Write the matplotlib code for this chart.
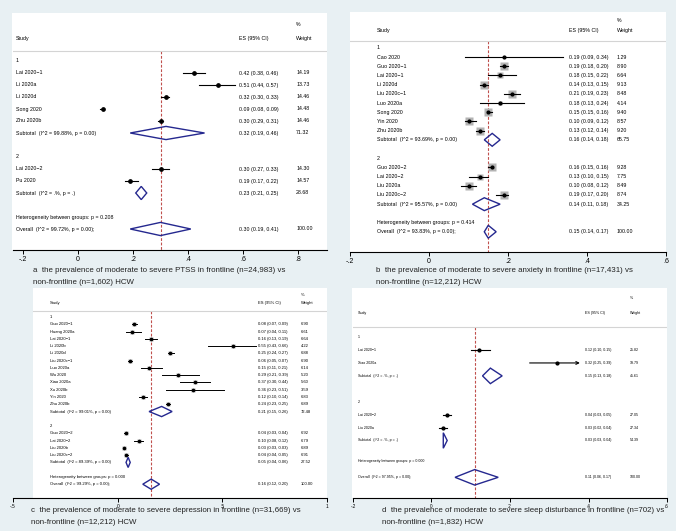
import numpy as np
import matplotlib.pyplot as plt
from matplotlib.patches import Rectangle, Polygon

plt.rcParams['font.family'] = ['Liberation Sans', 'DejaVu Sans']

W, H = 676, 531
BG = '#e8f0f3'
NAVY = '#25288f'
RED = '#c0504d'

# ---- panel a: PTSS
a_names = ['Lai 2020−1', 'Li 2020a', 'Li 2020d', 'Song 2020', 'Zhu 2020b', 'Lai 2020−2', 'Pu 2020']
a_group = [1, 1, 1, 1, 1, 2, 2]
a_es = [0.42, 0.51, 0.32, 0.09, 0.30, 0.30, 0.19]
a_lo = [0.38, 0.44, 0.30, 0.08, 0.29, 0.27, 0.17]
a_hi = [0.46, 0.57, 0.33, 0.09, 0.31, 0.33, 0.22]
a_wt = [14.19, 13.73, 14.46, 14.48, 14.46, 14.30, 14.57]
a_sub_es = [0.32, 0.23]
a_sub_lo = [0.19, 0.21]
a_sub_hi = [0.46, 0.25]
a_sub_wt = [71.32, 28.68]
a_sub_i2 = ['(I^2 = 99.88%, p = 0.00)', '(I^2 = .%, p = .)']
a_overall = [0.30, 0.19, 0.41]
a_overall_i2 = '(I^2 = 99.72%, p = 0.00);'
a_het_p = '0.208'
a_caption = ['a  the prevalence of moderate to severe PTSS in frontline (n=24,983) vs',
             'non-frontline (n=1,602) HCW']

# ---- panel b: anxiety
b_names = ['Cao 2020', 'Guo 2020−1', 'Lai 2020−1', 'Li 2020d', 'Liu 2020c−1', 'Luo 2020a',
           'Song 2020', 'Yin 2020', 'Zhu 2020b', 'Guo 2020−2', 'Lai 2020−2', 'Liu 2020a', 'Liu 2020c−2']
b_group = [1, 1, 1, 1, 1, 1, 1, 1, 1, 2, 2, 2, 2]
b_es = [0.19, 0.19, 0.18, 0.14, 0.21, 0.18, 0.15, 0.10, 0.13, 0.16, 0.13, 0.10, 0.19]
b_lo = [0.09, 0.18, 0.15, 0.13, 0.19, 0.13, 0.15, 0.09, 0.12, 0.15, 0.10, 0.08, 0.17]
b_hi = [0.34, 0.20, 0.22, 0.15, 0.23, 0.24, 0.16, 0.12, 0.14, 0.16, 0.15, 0.12, 0.20]
b_wt = [1.29, 8.90, 6.64, 9.13, 8.48, 4.14, 9.40, 8.57, 9.20, 9.28, 7.75, 8.49, 8.74]
b_sub_es = [0.16, 0.14]
b_sub_lo = [0.14, 0.11]
b_sub_hi = [0.18, 0.18]
b_sub_wt = [65.75, 34.25]
b_sub_i2 = ['(I^2 = 93.69%, p = 0.00)', '(I^2 = 95.57%, p = 0.00)']
b_overall = [0.15, 0.14, 0.17]
b_overall_i2 = '(I^2 = 93.83%, p = 0.00);'
b_het_p = '0.414'
b_caption = ['b  the prevalence of moderate to severe anxiety in frontline (n=17,431) vs',
             'non-frontline (n=12,212) HCW']

# ---- panel c: depression
c_names = ['Guo 2020−1', 'Huang 2020a', 'Lai 2020−1', 'Li 2020b', 'Li 2020d', 'Liu 2020c−1',
           'Luo 2020a', 'Wu 2020', 'Xiao 2020a', 'Xu 2020b', 'Yin 2020', 'Zhu 2020b',
           'Guo 2020−2', 'Lai 2020−2', 'Liu 2020b', 'Liu 2020c−2']
c_group = [1] * 12 + [2] * 4
c_es = [0.08, 0.07, 0.16, 0.55, 0.25, 0.06, 0.15, 0.29, 0.37, 0.36, 0.12, 0.24, 0.04, 0.10, 0.03, 0.04]
c_lo = [0.07, 0.04, 0.13, 0.43, 0.24, 0.05, 0.11, 0.21, 0.30, 0.23, 0.10, 0.23, 0.03, 0.08, 0.03, 0.04]
c_hi = [0.09, 0.11, 0.19, 0.66, 0.27, 0.07, 0.21, 0.39, 0.44, 0.51, 0.14, 0.25, 0.04, 0.12, 0.03, 0.05]
c_wt = [6.90, 6.61, 6.64, 4.22, 6.88, 6.90, 6.14, 5.20, 5.60, 3.59, 6.83, 6.89, 6.92, 6.79, 6.89, 6.91]
c_sub_es = [0.21, 0.05]
c_sub_lo = [0.15, 0.04]
c_sub_hi = [0.26, 0.06]
c_sub_wt = [72.48, 27.52]
c_sub_i2 = ['(I^2 = 99.01%, p = 0.00)', '(I^2 = 89.39%, p = 0.00)']
c_overall = [0.16, 0.12, 0.20]
c_overall_i2 = '(I^2 = 99.29%, p = 0.00);'
c_het_p = '0.000'
c_caption = ['c  the prevalence of moderate to severe depression in frontline (n=31,669) vs',
             'non-frontline (n=12,212) HCW']

# ---- panel d: sleep disturbance
d_names = ['Lai 2020−1', 'Xiao 2020a', 'Lai 2020−2', 'Liu 2020a']
d_group = [1, 1, 2, 2]
d_es = [0.12, 0.32, 0.04, 0.03]
d_lo = [0.10, 0.25, 0.03, 0.02]
d_hi = [0.15, 0.39, 0.05, 0.04]
d_wt = [25.82, 19.79, 27.05, 27.34]
d_sub_es = [0.15, 0.03]
d_sub_lo = [0.13, 0.03]
d_sub_hi = [0.18, 0.04]
d_sub_wt = [45.61, 54.39]
d_sub_i2 = ['(I^2 = .%, p = .)', '(I^2 = .%, p = .)']
d_overall = [0.11, 0.06, 0.17]
d_overall_i2 = '(I^2 = 97.95%, p = 0.00);'
d_het_p = '0.000'
d_caption = ['d  the prevalence of moderate to severe sleep disturbance in frontline (n=702) vs',
             'non-frontline (n=1,832) HCW']


def forest(box, ax_px, xlim, ylim, cols, ticks, ticklabels, fs, tfs, boxk, dot, dh,
           clip, names, group, es, lo, hi, wt, s_es, s_lo, s_hi, s_wt, s_i2,
           overall, ov_i2, het_p, het_shift=0.0, ov_shift=0.0, lw=0.8):
    bx0, by0, bx1, by1 = box
    fig.add_artist(Rectangle((bx0 / W, 1 - by1 / H), (bx1 - bx0) / W, (by1 - by0) / H,
                             transform=fig.transFigure, facecolor='white',
                             edgecolor='none', zorder=-1))
    x0, y0, x1, y1 = ax_px
    ax = fig.add_axes([x0 / W, 1 - y1 / H, (x1 - x0) / W, (y1 - y0) / H])
    ax.set_facecolor('none')
    ax.set_xlim(*xlim)
    ax.set_ylim(*ylim)
    for s in ['top', 'left', 'right']:
        ax.spines[s].set_visible(False)
    ax.spines['bottom'].set_linewidth(0.8)
    ax.set_yticks([])
    ax.set_xticks(ticks)
    ax.set_xticklabels(ticklabels, fontsize=tfs)
    ax.tick_params(axis='x', length=3, width=0.7, pad=1)

    cs, ce, cw = cols
    # header
    ax.text(cw, -3, '%', fontsize=fs, va='center')
    ax.text(cs, -1.9, 'Study', fontsize=fs, va='center')
    ax.text(ce, -1.9, 'ES (95% CI)', fontsize=fs, va='center')
    ax.text(cw, -1.9, 'Weight', fontsize=fs, va='center')
    xfrac = (bx0 - x0) / (x1 - x0)
    ax.axhline(-0.8, xmin=xfrac, color='#d4d4d4', lw=0.8)

    row = 0
    for g in (1, 2):
        ax.text(cs, row, str(g), fontsize=fs, va='center')
        row += 1
        for i in [k for k in range(len(names)) if group[k] == g]:
            if boxk > 0:
                ax.plot(es[i], row, marker='s', ms=boxk * np.sqrt(wt[i]), color='#b3b3b3',
                        mec='none', zorder=2)
            if hi[i] > clip:
                ax.annotate('', xy=(clip, row), xytext=(lo[i], row),
                            arrowprops=dict(arrowstyle='->', lw=lw, color='black',
                                            shrinkA=0, shrinkB=0, mutation_scale=5))
            else:
                ax.plot([lo[i], hi[i]], [row, row], color='black', lw=lw, zorder=3)
            ax.plot(es[i], row, 'o', ms=dot, color='black', zorder=4)
            ax.text(cs, row, names[i], fontsize=fs, va='center')
            ax.text(ce, row, f'{es[i]:.2f} ({lo[i]:.2f}, {hi[i]:.2f})', fontsize=fs, va='center')
            ax.text(cw, row, f'{wt[i]:.2f}', fontsize=fs, va='center')
            row += 1
        j = g - 1
        ax.add_patch(Polygon([(s_lo[j], row), (s_es[j], row - dh), (s_hi[j], row),
                              (s_es[j], row + dh)], closed=True, fill=False,
                             edgecolor=NAVY, lw=1.0, zorder=5))
        ax.text(cs, row, 'Subtotal  ' + s_i2[j], fontsize=fs, va='center')
        ax.text(ce, row, f'{s_es[j]:.2f} ({s_lo[j]:.2f}, {s_hi[j]:.2f})', fontsize=fs, va='center')
        ax.text(cw, row, f'{s_wt[j]:.2f}', fontsize=fs, va='center')
        row += 2

    hr = row + het_shift
    ax.text(cs, hr, 'Heterogeneity between groups: p = ' + het_p, fontsize=fs, va='center')
    orow = row + 1 + ov_shift
    ov, olo, ohi = overall
    ax.add_patch(Polygon([(olo, orow), (ov, orow - dh), (ohi, orow), (ov, orow + dh)],
                         closed=True, fill=False, edgecolor=NAVY, lw=1.0, zorder=5))
    ax.text(cs, orow, 'Overall  ' + ov_i2, fontsize=fs, va='center')
    ax.text(ce, orow, f'{ov:.2f} ({olo:.2f}, {ohi:.2f})', fontsize=fs, va='center')
    ax.text(cw, orow, '100.00', fontsize=fs, va='center')
    ax.plot([ov, ov], [-0.8, ylim[0]], color=RED, lw=0.8, ls=(0, (2.5, 1.5)), zorder=1)
    return ax


fig = plt.figure(figsize=(W / 100, H / 100), dpi=100)
fig.patch.set_facecolor(BG)

# panel a
forest((12, 13, 327, 250), (13, 13, 327, 250), (-0.236, 0.905), (15.75, -4.0),
       (-0.225, 0.585, 0.793), [-0.2, 0, 0.2, 0.4, 0.6, 0.8],
       ['-.2', '0', '.2', '.4', '.6', '.8'], 3.8, 5.0, 0, 2.4, 0.55, 9,
       a_names, a_group, a_es, a_lo, a_hi, a_wt, a_sub_es, a_sub_lo, a_sub_hi, a_sub_wt,
       a_sub_i2, a_overall, a_overall_i2, a_het_p)

# panel b
forest((350, 12, 666, 252), (350, 12, 666, 252), (-0.2, 0.6), (22.2, -3.9),
       (-0.132, 0.354, 0.476), [-0.2, 0, 0.2, 0.4, 0.6],
       ['-.2', '0', '.2', '.4', '.6'], 3.8, 5.0, 1.75, 2.0, 0.7, 0.344,
       b_names, b_group, b_es, b_lo, b_hi, b_wt, b_sub_es, b_sub_lo, b_sub_hi, b_sub_wt,
       b_sub_i2, b_overall, b_overall_i2, b_het_p)

# panel c
forest((33, 288, 327, 498), (13, 288, 327, 498), (-0.5, 1.0), (24.9, -4.0),
       (-0.323, 0.67, 0.876), [-0.5, 0, 0.5, 1.0],
       ['-.5', '0', '.5', '1'], 3.0, 3.5, 1.2, 1.6, 0.7, 9,
       c_names, c_group, c_es, c_lo, c_hi, c_wt, c_sub_es, c_sub_lo, c_sub_hi, c_sub_wt,
       c_sub_i2, c_overall, c_overall_i2, c_het_p, lw=0.7)

# panel d
forest((352, 288, 667, 498), (353, 288, 667, 498), (-0.2, 0.6), (12.45, -3.8),
       (-0.187, 0.391, 0.506), [-0.2, 0, 0.2, 0.4, 0.6],
       ['-.2', '0', '.2', '.4', '.6'], 2.6, 3.3, 0, 2.0, 0.6, 0.378,
       d_names, d_group, d_es, d_lo, d_hi, d_wt, d_sub_es, d_sub_lo, d_sub_hi, d_sub_wt,
       d_sub_i2, d_overall, d_overall_i2, d_het_p, het_shift=-0.4, ov_shift=-0.15)

# captions
for cap, (cx, cy) in [(a_caption, (33, 271)), (b_caption, (376, 271)),
                      (c_caption, (31, 511)), (d_caption, (382, 511))]:
    for k, line in enumerate(cap):
        fig.text(cx / W, 1 - (cy + 12 * k) / H, line, fontsize=5.7, va='center',
                 color='#222222')

fig.savefig('out.png', dpi=100, facecolor=BG)
